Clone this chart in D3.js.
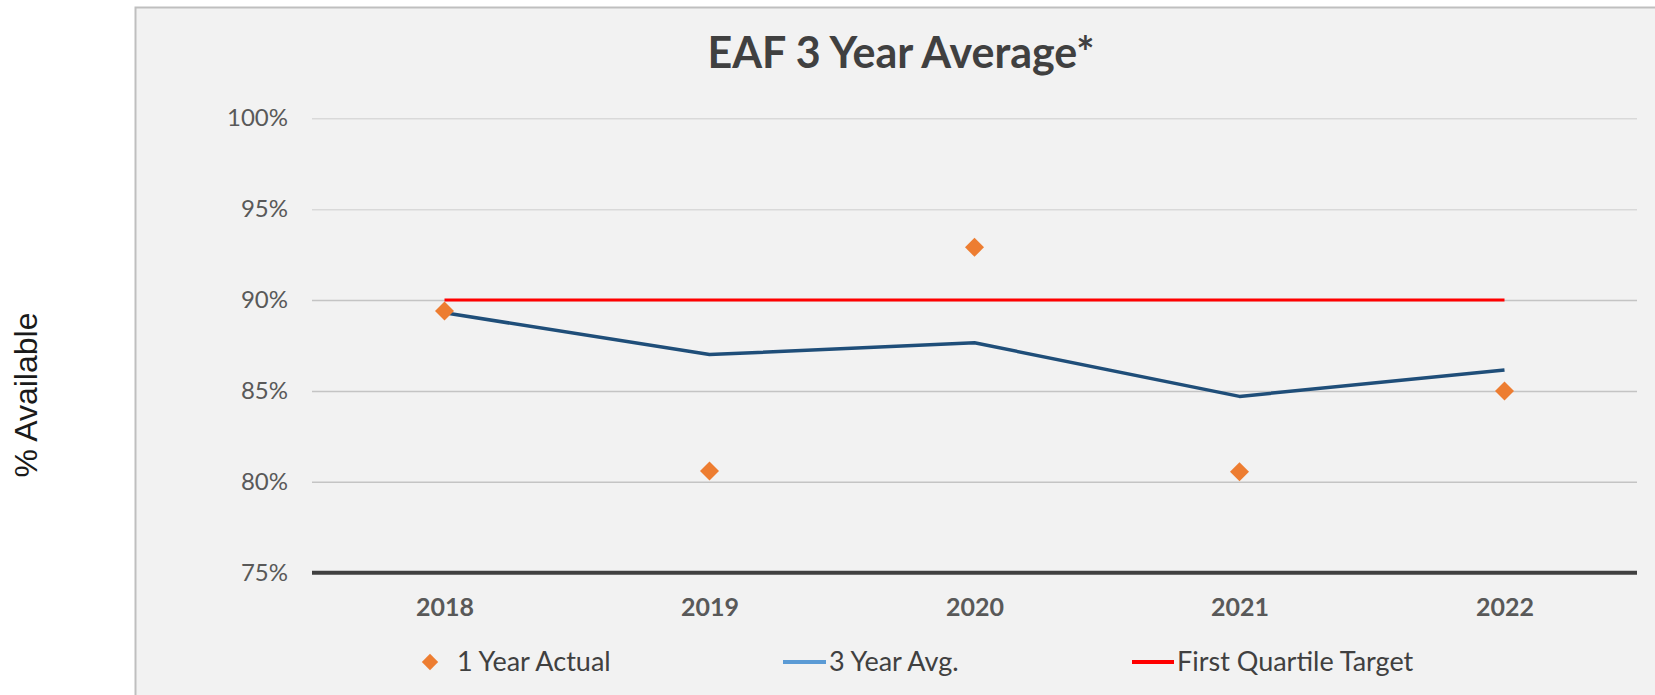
<!DOCTYPE html>
<html>
<head>
<meta charset="utf-8">
<script src="https://cdn.jsdelivr.net/npm/d3@7"></script>
<style>
  body { margin: 0; background: #fff; }
  svg { display: block; }
  text { font-family: Lato, "Open Sans", sans-serif; }
</style>
</head>
<body>
<div id="chart"></div>
<script>
const years = ['2018', '2019', '2020', '2021', '2022'];
const oneYearActual = [89.4, 80.6, 92.9, 80.55, 85.0];
const threeYearAvg = [89.3, 87.0, 87.65, 84.7, 86.15];
const firstQuartileTarget = [90, 90, 90, 90, 90];
const yTicks = [75, 80, 85, 90, 95, 100];
const legendItems = ['1 Year Actual', '3 Year Avg.', 'First Quartile Target'];

const width = 1655, height = 695;
const plot = { left: 312, right: 1637, top: 118.3, bottom: 572.7 };

const svg = d3.select('#chart').append('svg')
  .attr('width', width)
  .attr('height', height);

// chart panel
svg.append('rect')
  .attr('x', 135.5).attr('y', 7.5)
  .attr('width', width).attr('height', height)
  .attr('fill', '#f2f2f2')
  .attr('stroke', '#bfbfbf')
  .attr('stroke-width', 2);

const x = d3.scalePoint().domain(years).range([plot.left, plot.right]).padding(0.5);
const y = d3.scaleLinear().domain([75, 100]).range([plot.bottom, plot.top]);

// y axis + gridlines
const yAxis = svg.append('g')
  .attr('transform', `translate(${plot.left},0)`)
  .call(d3.axisLeft(y)
    .tickValues(yTicks)
    .tickSize(-(plot.right - plot.left))
    .tickPadding(24)
    .tickFormat(d => d + '%'));
yAxis.select('.domain').remove();
yAxis.selectAll('.tick line')
  .attr('stroke', (d, i) => d >= 95 ? '#d9d9d9' : '#c4c4c4')
  .attr('stroke-width', 1.5);
yAxis.selectAll('.tick text')
  .attr('fill', '#595959')
  .style('font-size', '24px');

// x axis
const xAxis = svg.append('g')
  .attr('transform', `translate(0,${plot.bottom})`)
  .call(d3.axisBottom(x).tickSize(0));
xAxis.select('.domain').remove();
xAxis.selectAll('.tick text')
  .attr('y', 43).attr('dy', 0)
  .attr('fill', '#595959')
  .style('font-size', '25px')
  .style('font-weight', 'bold');

svg.append('line')
  .attr('x1', plot.left).attr('x2', plot.right)
  .attr('y1', y(75)).attr('y2', y(75))
  .attr('stroke', '#404040')
  .attr('stroke-width', 4);

// title
svg.append('text')
  .attr('x', 901).attr('y', 68)
  .attr('text-anchor', 'middle')
  .attr('fill', '#404040')
  .style('font-size', '43px')
  .style('font-weight', 'bold')
  .text('EAF 3 Year Average*');

// y axis title
svg.append('text')
  .attr('transform', 'translate(37,395) rotate(-90)')
  .attr('text-anchor', 'middle')
  .attr('fill', '#1a1a1a')
  .style('font-family', '"Liberation Sans", Arial, sans-serif')
  .style('font-size', '32px')
  .text('% Available');

// first quartile target
const line = d3.line().x((d, i) => x(years[i])).y(d => y(d));
svg.append('path')
  .datum(firstQuartileTarget)
  .attr('d', line)
  .attr('fill', 'none')
  .attr('stroke', '#ff0000')
  .attr('stroke-width', 3);

// 3 year avg
svg.append('path')
  .datum(threeYearAvg)
  .attr('d', line)
  .attr('fill', 'none')
  .attr('stroke', '#1f4e79')
  .attr('stroke-width', 3.5)
  .attr('stroke-linejoin', 'round');

// 1 year actual
const diamond = d3.symbol().type(d3.symbolDiamond2).size(230);
svg.selectAll('.actual')
  .data(oneYearActual)
  .enter()
  .append('path')
  .attr('class', 'actual')
  .attr('d', diamond)
  .attr('transform', (d, i) => `translate(${x(years[i])},${y(d)})`)
  .attr('fill', '#ed7d31');

// legend
const legendY = 662;
const legend = svg.append('g');
legend.append('path')
  .attr('d', d3.symbol().type(d3.symbolDiamond2).size(170))
  .attr('transform', `translate(430,${legendY})`)
  .attr('fill', '#ed7d31');
legend.append('line')
  .attr('x1', 783).attr('x2', 826)
  .attr('y1', legendY).attr('y2', legendY)
  .attr('stroke', '#5b9bd5').attr('stroke-width', 4);
legend.append('line')
  .attr('x1', 1132).attr('x2', 1174)
  .attr('y1', legendY).attr('y2', legendY)
  .attr('stroke', '#ff0000').attr('stroke-width', 4);
legend.selectAll('.legend-text')
  .data(legendItems)
  .enter()
  .append('text')
  .attr('class', 'legend-text')
  .attr('x', (d, i) => [457, 829, 1177][i])
  .attr('y', 671)
  .attr('fill', '#404040')
  .style('font-size', '27px')
  .text(d => d);
</script>
</body>
</html>
